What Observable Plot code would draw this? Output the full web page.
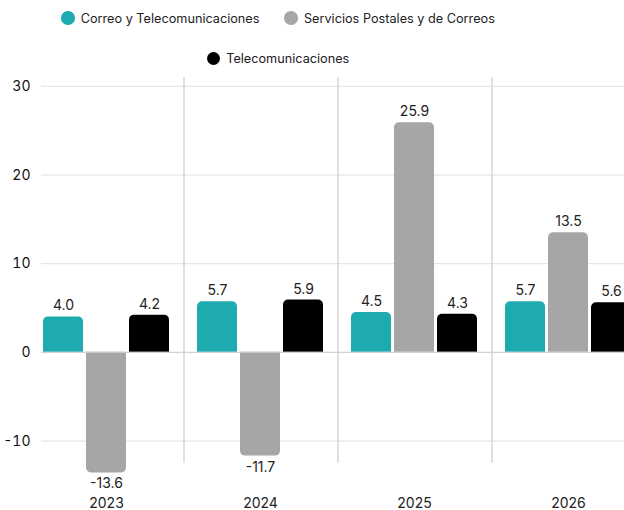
<!DOCTYPE html>
<html>
<head>
<meta charset="utf-8">
<script src="https://cdn.jsdelivr.net/npm/d3@7"></script>
<script src="https://cdn.jsdelivr.net/npm/@observablehq/plot@0.6"></script>
<style>
  html, body { margin: 0; padding: 0; background: #fff; overflow: hidden; }
  body { width: 624px; height: 510px; font-family: Inter, Roboto, sans-serif; }
  #legend { height: 70px; box-sizing: border-box; width: 556px; padding-top: 8px;
    display: flex; flex-wrap: wrap; justify-content: center; column-gap: 25px; row-gap: 19px; }
  .item { display: flex; align-items: center; height: 20px; font-size: 12.7px; color: #222; }
  .sw { width: 13.5px; height: 13.5px; border-radius: 50%; margin-right: 6px; }
  #chart { width: 624px; overflow: hidden; }
</style>
</head>
<body>
<div id="legend"></div>
<div id="chart"></div>
<script>
const years = ["2023", "2024", "2025", "2026"];
const seriesNames = ["Correo y Telecomunicaciones", "Servicios Postales y de Correos", "Telecomunicaciones"];
const seriesColors = ["#1eabb0", "#a6a6a6", "#000000"];
const correoTelecom = [4.0, 5.7, 4.5, 5.7];
const postales = [-13.6, -11.7, 25.9, 13.5];
const telecom = [4.2, 5.9, 4.3, 5.6];
const yTicks = [-10, 0, 10, 20, 30];

const seriesValues = [correoTelecom, postales, telecom];
const data = [];
years.forEach((yr, i) => seriesValues.forEach((vals, s) => data.push({year: yr, series: seriesNames[s], value: vals[i]})));
const pos = data.filter(d => d.value >= 0);
const neg = data.filter(d => d.value < 0);
const seps = years.slice(1).map(y => ({year: y}));
const gridFirst = yTicks.map(t => ({year: years[0], t}));
const gridRest = years.slice(1).flatMap(y => yTicks.map(t => ({year: y, t})));

const legend = document.getElementById("legend");
seriesNames.forEach((n, i) => {
  const it = document.createElement("div");
  it.className = "item";
  it.innerHTML = `<span class="sw" style="background:${seriesColors[i]}"></span><span>${n}</span>`;
  legend.appendChild(it);
});

const color = {domain: seriesNames, range: seriesColors};
const plot = Plot.plot({
  width: 624,
  height: 440,
  marginLeft: 41,
  marginRight: 0,
  marginTop: 0,
  marginBottom: 34,
  style: {fontFamily: "Inter, Roboto, sans-serif", fontSize: "14px", color: "#222", overflow: "hidden"},
  fx: {domain: years, range: [29, 645], padding: 0, label: null, axis: "bottom", tickSize: 0, tickPadding: 22},
  x: {domain: seriesNames, paddingInner: 0.07, paddingOuter: 0.305, axis: null},
  y: {domain: [-14, 31], range: [406, 7], axis: null},
  color,
  marks: [
    Plot.ruleY(gridFirst, {fx: "year", y: "t", insetLeft: 12, stroke: "#e6e6e6", strokeWidth: 1.2}),
    Plot.ruleY(gridRest, {fx: "year", y: "t", stroke: "#e6e6e6", strokeWidth: 1.2}),
    Plot.ruleX(seps, {fx: "year", x: () => seriesNames[0], dx: -33.5, y1: -12.5, y2: 31, stroke: "#d0d0d0", strokeWidth: 1.3}),
    Plot.barY(pos, {fx: "year", x: "series", y: "value", fill: "series", ry1: 5}),
    Plot.barY(neg, {fx: "year", x: "series", y: "value", fill: "series", ry2: 5}),
    Plot.ruleY(gridFirst.filter(d => d.t === 0), {fx: "year", y: "t", insetLeft: 12, stroke: "#cfcfcf", strokeWidth: 1}),
    Plot.ruleY(gridRest.filter(d => d.t === 0), {fx: "year", y: "t", stroke: "#cfcfcf", strokeWidth: 1}),
    Plot.text(pos, {fx: "year", x: "series", y: "value", text: d => d.value.toFixed(1), dy: -11, fill: "#222", fontSize: 14}),
    Plot.text(neg, {fx: "year", x: "series", y: "value", text: d => d.value.toFixed(1), dy: 11, fill: "#222", fontSize: 14}),
    Plot.axisY(yTicks, {facetAnchor: "left", anchor: "left", tickSize: 0, tickPadding: 0, dx: 1, fontSize: 14, fill: "#111", label: null, tickFormat: d => String(d)})
  ]
});
document.getElementById("chart").appendChild(plot);
</script>
</body>
</html>
